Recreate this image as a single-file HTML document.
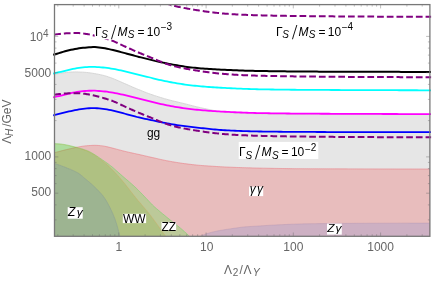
<!DOCTYPE html>
<html><head><meta charset="utf-8"><title>plot</title>
<style>html,body{margin:0;padding:0;background:#fff;overflow:hidden}</style></head>
<body><svg width="436" height="282" viewBox="0 0 436 282" style="display:block;will-change:transform;opacity:0.999" font-family='"Liberation Sans", sans-serif'>
<rect width="436" height="282" fill="#fff"/>
<defs><clipPath id="c"><rect x="54.5" y="4.6" width="375.4" height="231.70000000000002"/></clipPath>
<clipPath id="c2"><rect x="53.1" y="4.6" width="378.0" height="231.70000000000002"/></clipPath></defs>
<g clip-path="url(#c)">
<path d="M54.50,74.30 L56.50,73.91 L58.50,73.55 L60.50,73.22 L62.50,72.93 L64.50,72.66 L66.50,72.42 L68.50,72.23 L70.50,72.09 L72.50,71.97 L74.50,71.90 L76.50,71.92 L78.50,71.97 L80.50,72.06 L82.50,72.15 L84.50,72.28 L86.50,72.45 L88.50,72.65 L90.50,72.91 L92.50,73.22 L94.50,73.55 L96.50,73.90 L98.50,74.29 L100.50,74.71 L102.50,75.16 L104.50,75.66 L106.50,76.24 L108.50,76.90 L110.50,77.62 L112.50,78.36 L114.50,79.15 L116.50,79.99 L118.50,80.85 L120.50,81.72 L122.50,82.60 L124.50,83.49 L126.50,84.37 L128.50,85.26 L130.50,86.14 L132.50,87.00 L134.50,87.85 L136.50,88.69 L138.50,89.50 L140.50,90.32 L142.50,91.13 L144.50,91.93 L146.50,92.71 L148.50,93.46 L150.50,94.17 L152.50,94.86 L154.50,95.53 L156.50,96.18 L158.50,96.82 L160.50,97.44 L162.50,98.04 L164.50,98.63 L166.50,99.20 L168.50,99.75 L170.50,100.29 L172.50,100.79 L174.50,101.29 L176.50,101.76 L178.50,102.24 L180.50,102.71 L182.50,103.19 L184.50,103.68 L186.50,104.18 L188.50,104.70 L190.50,105.22 L192.50,105.74 L194.50,106.25 L196.50,106.74 L198.50,107.21 L200.50,107.66 L202.50,108.10 L204.50,108.53 L206.50,108.95 L208.50,109.36 L210.50,109.76 L212.50,110.18 L214.50,110.60 L216.50,111.02 L218.50,111.39 L220.50,111.71 L222.50,111.95 L224.50,112.15 L226.50,112.34 L228.50,112.51 L230.50,112.66 L232.50,112.80 L234.50,112.92 L236.50,113.03 L238.50,113.13 L240.50,113.22 L242.50,113.30 L244.50,113.38 L246.50,113.46 L248.50,113.53 L250.50,113.59 L252.50,113.65 L254.50,113.70 L256.50,113.74 L258.50,113.78 L260.50,113.81 L262.50,113.83 L264.50,113.85 L266.50,113.88 L268.50,113.90 L270.50,113.91 L272.50,113.93 L274.50,113.95 L276.50,113.97 L278.50,113.98 L280.50,113.99 L282.50,114.01 L284.50,114.02 L286.50,114.03 L288.50,114.04 L290.50,114.05 L292.50,114.06 L294.50,114.07 L296.50,114.08 L298.50,114.09 L300.50,114.10 L302.50,114.11 L304.50,114.12 L306.50,114.13 L308.50,114.14 L310.50,114.15 L312.50,114.16 L314.50,114.16 L316.50,114.17 L318.50,114.18 L320.50,114.19 L322.50,114.19 L324.50,114.20 L326.50,114.21 L328.50,114.22 L330.50,114.22 L332.50,114.23 L334.50,114.23 L336.50,114.24 L338.50,114.25 L340.50,114.25 L342.50,114.26 L344.50,114.26 L346.50,114.27 L348.50,114.27 L350.50,114.28 L352.50,114.28 L354.50,114.29 L356.50,114.29 L358.50,114.30 L360.50,114.30 L362.50,114.31 L364.50,114.31 L366.50,114.31 L368.50,114.32 L370.50,114.32 L372.50,114.32 L374.50,114.33 L376.50,114.33 L378.50,114.34 L380.50,114.34 L382.50,114.34 L384.50,114.35 L386.50,114.35 L388.50,114.35 L390.50,114.36 L392.50,114.36 L394.50,114.36 L396.50,114.37 L398.50,114.37 L400.50,114.37 L402.50,114.38 L404.50,114.38 L406.50,114.38 L408.50,114.38 L410.50,114.38 L412.50,114.39 L414.50,114.39 L416.50,114.39 L418.50,114.39 L420.50,114.39 L422.50,114.40 L424.50,114.40 L426.50,114.40 L428.50,114.40 L429.90,114.40 L429.9,239.3 L54.5,239.3 Z" fill="#e6e6e6" stroke="#cfcfcf" stroke-width="0.8"/>
<path d="M54.50,152.70 L56.50,152.15 L58.50,151.61 L60.50,151.09 L62.50,150.57 L64.50,150.07 L66.50,149.57 L68.50,149.09 L70.50,148.63 L72.50,148.17 L74.50,147.73 L76.50,147.31 L78.50,146.94 L80.50,146.57 L82.50,146.23 L84.50,145.96 L86.50,145.75 L88.50,145.59 L90.50,145.47 L92.50,145.37 L94.50,145.30 L96.50,145.34 L98.50,145.47 L100.50,145.65 L102.50,145.89 L104.50,146.21 L106.50,146.60 L108.50,147.08 L110.50,147.57 L112.50,148.08 L114.50,148.61 L116.50,149.13 L118.50,149.67 L120.50,150.20 L122.50,150.72 L124.50,151.22 L126.50,151.69 L128.50,152.16 L130.50,152.61 L132.50,153.06 L134.50,153.50 L136.50,153.93 L138.50,154.37 L140.50,154.81 L142.50,155.27 L144.50,155.73 L146.50,156.20 L148.50,156.66 L150.50,157.11 L152.50,157.55 L154.50,157.99 L156.50,158.46 L158.50,158.95 L160.50,159.41 L162.50,159.84 L164.50,160.26 L166.50,160.66 L168.50,161.04 L170.50,161.40 L172.50,161.75 L174.50,162.09 L176.50,162.41 L178.50,162.72 L180.50,163.03 L182.50,163.33 L184.50,163.61 L186.50,163.87 L188.50,164.12 L190.50,164.37 L192.50,164.60 L194.50,164.82 L196.50,165.03 L198.50,165.22 L200.50,165.40 L202.50,165.56 L204.50,165.71 L206.50,165.85 L208.50,165.98 L210.50,166.10 L212.50,166.23 L214.50,166.36 L216.50,166.49 L218.50,166.61 L220.50,166.73 L222.50,166.84 L224.50,166.95 L226.50,167.03 L228.50,167.12 L230.50,167.20 L232.50,167.28 L234.50,167.36 L236.50,167.43 L238.50,167.50 L240.50,167.57 L242.50,167.64 L244.50,167.70 L246.50,167.76 L248.50,167.82 L250.50,167.87 L252.50,167.93 L254.50,167.98 L256.50,168.02 L258.50,168.07 L260.50,168.11 L262.50,168.15 L264.50,168.19 L266.50,168.23 L268.50,168.27 L270.50,168.31 L272.50,168.35 L274.50,168.38 L276.50,168.42 L278.50,168.45 L280.50,168.48 L282.50,168.51 L284.50,168.54 L286.50,168.57 L288.50,168.60 L290.50,168.62 L292.50,168.64 L294.50,168.66 L296.50,168.68 L298.50,168.69 L300.50,168.70 L302.50,168.71 L304.50,168.72 L306.50,168.73 L308.50,168.74 L310.50,168.75 L312.50,168.76 L314.50,168.77 L316.50,168.78 L318.50,168.79 L320.50,168.80 L322.50,168.80 L324.50,168.81 L326.50,168.82 L328.50,168.82 L330.50,168.83 L332.50,168.84 L334.50,168.84 L336.50,168.85 L338.50,168.85 L340.50,168.86 L342.50,168.86 L344.50,168.87 L346.50,168.87 L348.50,168.88 L350.50,168.88 L352.50,168.88 L354.50,168.89 L356.50,168.89 L358.50,168.90 L360.50,168.90 L362.50,168.90 L364.50,168.91 L366.50,168.91 L368.50,168.92 L370.50,168.92 L372.50,168.92 L374.50,168.93 L376.50,168.93 L378.50,168.94 L380.50,168.94 L382.50,168.94 L384.50,168.95 L386.50,168.95 L388.50,168.95 L390.50,168.96 L392.50,168.96 L394.50,168.96 L396.50,168.97 L398.50,168.97 L400.50,168.97 L402.50,168.97 L404.50,168.98 L406.50,168.98 L408.50,168.98 L410.50,168.98 L412.50,168.99 L414.50,168.99 L416.50,168.99 L418.50,168.99 L420.50,168.99 L422.50,169.00 L424.50,169.00 L426.50,169.00 L428.50,169.00 L429.90,169.00 L429.9,239.3 L54.5,239.3 Z" fill="rgb(242,0,0)" fill-opacity="0.175" stroke="rgb(235,110,120)" stroke-opacity="0.55" stroke-width="0.9"/>
<path d="M54.50,143.60 L56.50,143.66 L58.50,143.79 L60.50,143.94 L62.50,144.19 L64.50,144.51 L66.50,144.89 L68.50,145.34 L70.50,145.82 L72.50,146.31 L74.50,146.82 L76.50,147.34 L78.50,147.88 L80.50,148.45 L82.50,149.05 L84.50,149.69 L86.50,150.39 L88.50,151.21 L90.50,152.20 L92.50,153.32 L94.50,154.50 L96.50,155.80 L98.50,157.17 L100.50,158.54 L102.50,159.88 L104.50,161.25 L106.50,162.67 L108.50,164.13 L110.50,165.63 L112.50,167.22 L114.50,168.93 L116.50,170.75 L118.50,172.58 L120.50,174.34 L122.50,176.07 L124.50,177.79 L126.50,179.52 L128.50,181.21 L130.50,182.92 L132.50,184.68 L134.50,186.53 L136.50,188.45 L138.50,190.43 L140.50,192.45 L142.50,194.50 L144.50,196.58 L146.50,198.66 L148.50,200.75 L150.50,202.93 L152.50,205.00 L154.50,206.87 L156.50,208.63 L158.50,210.33 L160.50,212.02 L162.50,213.69 L164.50,215.33 L166.50,216.96 L168.50,218.58 L170.50,220.19 L172.50,221.80 L174.50,223.40 L176.50,224.99 L178.50,226.56 L180.50,228.17 L182.50,229.86 L184.50,231.63 L186.50,233.46 L188.50,235.38 L190.50,237.54 L191.40,238.60 L191.4,239.3 L54.5,239.3 Z" fill="rgb(0,255,0)" fill-opacity="0.19" stroke="rgb(80,220,80)" stroke-opacity="0.5" stroke-width="0.8"/>
<path d="M54.50,143.90 L56.50,143.96 L58.50,144.09 L60.50,144.24 L62.50,144.49 L64.50,144.81 L66.50,145.19 L68.50,145.64 L70.50,146.12 L72.50,146.61 L74.50,147.12 L76.50,147.64 L78.50,148.18 L80.50,148.74 L82.50,149.36 L84.50,150.02 L86.50,150.76 L88.50,151.62 L90.50,152.68 L92.50,153.87 L94.50,155.12 L96.50,156.47 L98.50,157.90 L100.50,159.36 L102.50,160.84 L104.50,162.39 L106.50,164.07 L108.50,165.86 L110.50,167.74 L112.50,169.70 L114.50,171.77 L116.50,173.95 L118.50,176.20 L120.50,178.50 L122.50,180.86 L124.50,183.28 L126.50,185.75 L128.50,188.30 L130.50,190.93 L132.50,193.56 L134.50,196.12 L136.50,198.59 L138.50,200.98 L140.50,203.33 L142.50,205.66 L144.50,208.00 L146.50,210.38 L148.50,212.81 L150.50,215.34 L152.50,217.96 L154.50,220.66 L156.50,223.41 L158.50,226.20 L160.50,229.11 L162.50,231.96 L164.50,234.60 L166.50,237.24 L167.50,238.60 L167.5,239.3 L54.5,239.3 Z" fill="rgb(100,145,0)" fill-opacity="0.15" stroke="rgb(255,140,40)" stroke-opacity="0.25" stroke-width="0.7"/>
<path d="M54.50,163.40 L56.50,164.07 L58.50,164.76 L60.50,165.48 L62.50,166.22 L64.50,166.99 L66.50,167.79 L68.50,168.61 L70.50,169.42 L72.50,170.25 L74.50,171.14 L76.50,172.13 L78.50,173.26 L80.50,174.70 L82.50,176.42 L84.50,178.18 L86.50,179.84 L88.50,181.49 L90.50,183.18 L92.50,184.95 L94.50,186.81 L96.50,188.77 L98.50,190.84 L100.50,192.96 L102.50,195.28 L104.50,197.95 L106.50,201.11 L108.50,204.70 L110.50,208.60 L112.50,212.88 L114.50,217.75 L116.50,223.55 L118.50,230.66 L120.30,238.60 L120.3,239.3 L54.5,239.3 Z" fill="rgb(52,108,235)" fill-opacity="0.15" stroke="rgb(120,140,160)" stroke-opacity="0.35" stroke-width="0.8"/>
<path d="M198.00,238.30 L200.00,236.49 L202.00,235.43 L204.00,234.65 L206.00,233.95 L208.00,233.31 L210.00,232.73 L212.00,232.20 L214.00,231.72 L216.00,231.28 L218.00,230.87 L220.00,230.49 L222.00,230.13 L224.00,229.80 L226.00,229.48 L228.00,229.18 L230.00,228.89 L232.00,228.60 L234.00,228.31 L236.00,228.01 L238.00,227.72 L240.00,227.44 L242.00,227.18 L244.00,226.96 L246.00,226.78 L248.00,226.63 L250.00,226.50 L252.00,226.39 L254.00,226.27 L256.00,226.15 L258.00,226.03 L260.00,225.90 L262.00,225.77 L264.00,225.64 L266.00,225.51 L268.00,225.39 L270.00,225.26 L272.00,225.14 L274.00,225.03 L276.00,224.92 L278.00,224.82 L280.00,224.72 L282.00,224.63 L284.00,224.54 L286.00,224.46 L288.00,224.37 L290.00,224.29 L292.00,224.21 L294.00,224.13 L296.00,224.06 L298.00,223.99 L300.00,223.93 L302.00,223.88 L304.00,223.83 L306.00,223.79 L308.00,223.76 L310.00,223.73 L312.00,223.70 L314.00,223.67 L316.00,223.64 L318.00,223.61 L320.00,223.59 L322.00,223.56 L324.00,223.54 L326.00,223.52 L328.00,223.50 L330.00,223.48 L332.00,223.46 L334.00,223.45 L336.00,223.43 L338.00,223.41 L340.00,223.40 L342.00,223.39 L344.00,223.37 L346.00,223.36 L348.00,223.35 L350.00,223.33 L352.00,223.32 L354.00,223.31 L356.00,223.30 L358.00,223.29 L360.00,223.28 L362.00,223.27 L364.00,223.26 L366.00,223.25 L368.00,223.24 L370.00,223.23 L372.00,223.23 L374.00,223.22 L376.00,223.21 L378.00,223.21 L380.00,223.20 L382.00,223.19 L384.00,223.19 L386.00,223.18 L388.00,223.18 L390.00,223.17 L392.00,223.17 L394.00,223.16 L396.00,223.16 L398.00,223.15 L400.00,223.15 L402.00,223.14 L404.00,223.14 L406.00,223.13 L408.00,223.13 L410.00,223.12 L412.00,223.12 L414.00,223.12 L416.00,223.11 L418.00,223.11 L420.00,223.11 L422.00,223.11 L424.00,223.10 L426.00,223.10 L428.00,223.10 L429.90,223.10 L429.9,239.3 L198.0,239.3 Z" fill="rgb(52,108,235)" fill-opacity="0.15" stroke="rgb(160,130,170)" stroke-opacity="0.35" stroke-width="0.8"/>
</g>
<g clip-path="url(#c2)" fill="none" stroke-width="2">
<path d="M53.00,54.86 L55.00,54.33 L57.00,53.74 L59.00,53.12 L61.00,52.50 L63.00,51.91 L65.00,51.32 L67.00,50.77 L69.00,50.28 L71.00,49.84 L73.00,49.42 L75.00,49.02 L77.00,48.66 L79.00,48.34 L81.00,48.06 L83.00,47.83 L85.00,47.63 L87.00,47.47 L89.00,47.33 L91.00,47.21 L93.00,47.12 L95.00,47.12 L97.00,47.26 L99.00,47.49 L101.00,47.71 L103.00,47.98 L105.00,48.30 L107.00,48.68 L109.00,49.13 L111.00,49.61 L113.00,50.09 L115.00,50.58 L117.00,51.08 L119.00,51.59 L121.00,52.10 L123.00,52.62 L125.00,53.15 L127.00,53.68 L129.00,54.22 L131.00,54.77 L133.00,55.32 L135.00,55.86 L137.00,56.39 L139.00,56.91 L141.00,57.40 L143.00,57.89 L145.00,58.37 L147.00,58.86 L149.00,59.35 L151.00,59.86 L153.00,60.39 L155.00,60.90 L157.00,61.36 L159.00,61.79 L161.00,62.21 L163.00,62.63 L165.00,63.05 L167.00,63.46 L169.00,63.87 L171.00,64.26 L173.00,64.64 L175.00,65.00 L177.00,65.35 L179.00,65.69 L181.00,66.02 L183.00,66.34 L185.00,66.63 L187.00,66.90 L189.00,67.15 L191.00,67.39 L193.00,67.62 L195.00,67.84 L197.00,68.03 L199.00,68.22 L201.00,68.38 L203.00,68.54 L205.00,68.69 L207.00,68.83 L209.00,68.97 L211.00,69.11 L213.00,69.23 L215.00,69.35 L217.00,69.47 L219.00,69.58 L221.00,69.68 L223.00,69.78 L225.00,69.87 L227.00,69.96 L229.00,70.04 L231.00,70.12 L233.00,70.20 L235.00,70.28 L237.00,70.35 L239.00,70.42 L241.00,70.49 L243.00,70.56 L245.00,70.63 L247.00,70.69 L249.00,70.74 L251.00,70.80 L253.00,70.85 L255.00,70.90 L257.00,70.94 L259.00,70.98 L261.00,71.02 L263.00,71.05 L265.00,71.09 L267.00,71.12 L269.00,71.15 L271.00,71.18 L273.00,71.21 L275.00,71.24 L277.00,71.27 L279.00,71.29 L281.00,71.32 L283.00,71.34 L285.00,71.36 L287.00,71.38 L289.00,71.40 L291.00,71.42 L293.00,71.44 L295.00,71.46 L297.00,71.48 L299.00,71.49 L301.00,71.51 L303.00,71.52 L305.00,71.54 L307.00,71.55 L309.00,71.56 L311.00,71.58 L313.00,71.59 L315.00,71.60 L317.00,71.62 L319.00,71.63 L321.00,71.64 L323.00,71.65 L325.00,71.66 L327.00,71.67 L329.00,71.68 L331.00,71.69 L333.00,71.70 L335.00,71.71 L337.00,71.72 L339.00,71.73 L341.00,71.74 L343.00,71.75 L345.00,71.76 L347.00,71.76 L349.00,71.77 L351.00,71.78 L353.00,71.78 L355.00,71.79 L357.00,71.79 L359.00,71.80 L361.00,71.80 L363.00,71.81 L365.00,71.81 L367.00,71.82 L369.00,71.82 L371.00,71.82 L373.00,71.83 L375.00,71.83 L377.00,71.84 L379.00,71.84 L381.00,71.84 L383.00,71.85 L385.00,71.85 L387.00,71.85 L389.00,71.86 L391.00,71.86 L393.00,71.87 L395.00,71.87 L397.00,71.87 L399.00,71.87 L401.00,71.88 L403.00,71.88 L405.00,71.88 L407.00,71.88 L409.00,71.89 L411.00,71.89 L413.00,71.89 L415.00,71.89 L417.00,71.89 L419.00,71.90 L421.00,71.90 L423.00,71.90 L425.00,71.90 L427.00,71.90 L429.00,71.90 L431.00,71.90" stroke="#000"/>
<path d="M53.00,73.65 L55.00,73.16 L57.00,72.69 L59.00,72.23 L61.00,71.77 L63.00,71.31 L65.00,70.83 L67.00,70.35 L69.00,69.88 L71.00,69.40 L73.00,68.94 L75.00,68.54 L77.00,68.20 L79.00,67.91 L81.00,67.66 L83.00,67.42 L85.00,67.19 L87.00,67.03 L89.00,66.97 L91.00,66.93 L93.00,66.90 L95.00,66.91 L97.00,67.04 L99.00,67.22 L101.00,67.37 L103.00,67.52 L105.00,67.70 L107.00,67.93 L109.00,68.22 L111.00,68.53 L113.00,68.87 L115.00,69.23 L117.00,69.62 L119.00,70.03 L121.00,70.46 L123.00,70.91 L125.00,71.36 L127.00,71.81 L129.00,72.29 L131.00,72.79 L133.00,73.29 L135.00,73.80 L137.00,74.30 L139.00,74.79 L141.00,75.29 L143.00,75.78 L145.00,76.27 L147.00,76.76 L149.00,77.25 L151.00,77.75 L153.00,78.26 L155.00,78.78 L157.00,79.29 L159.00,79.77 L161.00,80.22 L163.00,80.65 L165.00,81.07 L167.00,81.48 L169.00,81.87 L171.00,82.25 L173.00,82.61 L175.00,82.97 L177.00,83.30 L179.00,83.63 L181.00,83.95 L183.00,84.25 L185.00,84.53 L187.00,84.80 L189.00,85.05 L191.00,85.30 L193.00,85.54 L195.00,85.76 L197.00,85.97 L199.00,86.17 L201.00,86.34 L203.00,86.51 L205.00,86.67 L207.00,86.83 L209.00,86.98 L211.00,87.12 L213.00,87.26 L215.00,87.39 L217.00,87.52 L219.00,87.64 L221.00,87.75 L223.00,87.86 L225.00,87.97 L227.00,88.06 L229.00,88.16 L231.00,88.26 L233.00,88.35 L235.00,88.44 L237.00,88.53 L239.00,88.62 L241.00,88.70 L243.00,88.79 L245.00,88.86 L247.00,88.94 L249.00,89.01 L251.00,89.07 L253.00,89.13 L255.00,89.19 L257.00,89.24 L259.00,89.28 L261.00,89.32 L263.00,89.36 L265.00,89.39 L267.00,89.42 L269.00,89.46 L271.00,89.49 L273.00,89.52 L275.00,89.54 L277.00,89.57 L279.00,89.60 L281.00,89.62 L283.00,89.64 L285.00,89.67 L287.00,89.69 L289.00,89.71 L291.00,89.73 L293.00,89.74 L295.00,89.76 L297.00,89.78 L299.00,89.79 L301.00,89.81 L303.00,89.82 L305.00,89.84 L307.00,89.85 L309.00,89.86 L311.00,89.87 L313.00,89.89 L315.00,89.90 L317.00,89.91 L319.00,89.92 L321.00,89.93 L323.00,89.94 L325.00,89.95 L327.00,89.96 L329.00,89.97 L331.00,89.98 L333.00,89.99 L335.00,90.00 L337.00,90.01 L339.00,90.02 L341.00,90.03 L343.00,90.04 L345.00,90.04 L347.00,90.05 L349.00,90.06 L351.00,90.07 L353.00,90.07 L355.00,90.08 L357.00,90.09 L359.00,90.10 L361.00,90.10 L363.00,90.11 L365.00,90.12 L367.00,90.12 L369.00,90.13 L371.00,90.14 L373.00,90.15 L375.00,90.15 L377.00,90.16 L379.00,90.17 L381.00,90.17 L383.00,90.18 L385.00,90.19 L387.00,90.19 L389.00,90.20 L391.00,90.20 L393.00,90.21 L395.00,90.22 L397.00,90.22 L399.00,90.23 L401.00,90.23 L403.00,90.24 L405.00,90.24 L407.00,90.25 L409.00,90.25 L411.00,90.26 L413.00,90.26 L415.00,90.27 L417.00,90.27 L419.00,90.28 L421.00,90.28 L423.00,90.28 L425.00,90.29 L427.00,90.29 L429.00,90.30 L431.00,90.30" stroke="#00ffff" stroke-width="1.8"/>
<path d="M53.00,97.45 L55.00,96.96 L57.00,96.49 L59.00,96.03 L61.00,95.57 L63.00,95.11 L65.00,94.63 L67.00,94.15 L69.00,93.68 L71.00,93.20 L73.00,92.74 L75.00,92.34 L77.00,92.00 L79.00,91.71 L81.00,91.46 L83.00,91.22 L85.00,90.99 L87.00,90.83 L89.00,90.77 L91.00,90.73 L93.00,90.70 L95.00,90.71 L97.00,90.84 L99.00,91.02 L101.00,91.17 L103.00,91.32 L105.00,91.50 L107.00,91.73 L109.00,92.02 L111.00,92.33 L113.00,92.67 L115.00,93.03 L117.00,93.42 L119.00,93.83 L121.00,94.26 L123.00,94.71 L125.00,95.16 L127.00,95.61 L129.00,96.09 L131.00,96.59 L133.00,97.09 L135.00,97.60 L137.00,98.10 L139.00,98.59 L141.00,99.09 L143.00,99.58 L145.00,100.07 L147.00,100.56 L149.00,101.05 L151.00,101.55 L153.00,102.06 L155.00,102.58 L157.00,103.09 L159.00,103.57 L161.00,104.02 L163.00,104.45 L165.00,104.87 L167.00,105.28 L169.00,105.67 L171.00,106.05 L173.00,106.41 L175.00,106.77 L177.00,107.10 L179.00,107.43 L181.00,107.75 L183.00,108.05 L185.00,108.33 L187.00,108.60 L189.00,108.85 L191.00,109.10 L193.00,109.34 L195.00,109.56 L197.00,109.77 L199.00,109.97 L201.00,110.14 L203.00,110.31 L205.00,110.47 L207.00,110.63 L209.00,110.78 L211.00,110.92 L213.00,111.06 L215.00,111.19 L217.00,111.32 L219.00,111.44 L221.00,111.55 L223.00,111.66 L225.00,111.77 L227.00,111.86 L229.00,111.96 L231.00,112.06 L233.00,112.15 L235.00,112.24 L237.00,112.33 L239.00,112.42 L241.00,112.50 L243.00,112.59 L245.00,112.66 L247.00,112.74 L249.00,112.81 L251.00,112.87 L253.00,112.93 L255.00,112.99 L257.00,113.04 L259.00,113.08 L261.00,113.12 L263.00,113.16 L265.00,113.19 L267.00,113.22 L269.00,113.26 L271.00,113.29 L273.00,113.32 L275.00,113.34 L277.00,113.37 L279.00,113.40 L281.00,113.42 L283.00,113.44 L285.00,113.47 L287.00,113.49 L289.00,113.51 L291.00,113.53 L293.00,113.54 L295.00,113.56 L297.00,113.58 L299.00,113.59 L301.00,113.61 L303.00,113.62 L305.00,113.64 L307.00,113.65 L309.00,113.66 L311.00,113.67 L313.00,113.69 L315.00,113.70 L317.00,113.71 L319.00,113.72 L321.00,113.73 L323.00,113.74 L325.00,113.75 L327.00,113.76 L329.00,113.77 L331.00,113.78 L333.00,113.79 L335.00,113.80 L337.00,113.81 L339.00,113.82 L341.00,113.83 L343.00,113.84 L345.00,113.84 L347.00,113.85 L349.00,113.86 L351.00,113.87 L353.00,113.87 L355.00,113.88 L357.00,113.89 L359.00,113.90 L361.00,113.90 L363.00,113.91 L365.00,113.92 L367.00,113.92 L369.00,113.93 L371.00,113.94 L373.00,113.95 L375.00,113.95 L377.00,113.96 L379.00,113.97 L381.00,113.97 L383.00,113.98 L385.00,113.99 L387.00,113.99 L389.00,114.00 L391.00,114.00 L393.00,114.01 L395.00,114.02 L397.00,114.02 L399.00,114.03 L401.00,114.03 L403.00,114.04 L405.00,114.04 L407.00,114.05 L409.00,114.05 L411.00,114.06 L413.00,114.06 L415.00,114.07 L417.00,114.07 L419.00,114.08 L421.00,114.08 L423.00,114.08 L425.00,114.09 L427.00,114.09 L429.00,114.10 L431.00,114.10" stroke="#ff00ff" stroke-width="1.8"/>
<path d="M53.00,115.35 L55.00,114.85 L57.00,114.34 L59.00,113.84 L61.00,113.34 L63.00,112.86 L65.00,112.38 L67.00,111.92 L69.00,111.48 L71.00,111.04 L73.00,110.60 L75.00,110.17 L77.00,109.76 L79.00,109.39 L81.00,109.07 L83.00,108.80 L85.00,108.55 L87.00,108.36 L89.00,108.25 L91.00,108.17 L93.00,108.11 L95.00,108.11 L97.00,108.23 L99.00,108.41 L101.00,108.60 L103.00,108.83 L105.00,109.10 L107.00,109.41 L109.00,109.77 L111.00,110.17 L113.00,110.59 L115.00,111.05 L117.00,111.56 L119.00,112.09 L121.00,112.65 L123.00,113.20 L125.00,113.75 L127.00,114.29 L129.00,114.84 L131.00,115.40 L133.00,115.95 L135.00,116.49 L137.00,117.00 L139.00,117.48 L141.00,117.94 L143.00,118.38 L145.00,118.81 L147.00,119.23 L149.00,119.65 L151.00,120.06 L153.00,120.48 L155.00,120.91 L157.00,121.33 L159.00,121.76 L161.00,122.17 L163.00,122.57 L165.00,122.96 L167.00,123.34 L169.00,123.71 L171.00,124.07 L173.00,124.43 L175.00,124.76 L177.00,125.08 L179.00,125.38 L181.00,125.66 L183.00,125.93 L185.00,126.19 L187.00,126.45 L189.00,126.69 L191.00,126.93 L193.00,127.17 L195.00,127.40 L197.00,127.63 L199.00,127.84 L201.00,128.05 L203.00,128.26 L205.00,128.47 L207.00,128.68 L209.00,128.89 L211.00,129.10 L213.00,129.30 L215.00,129.49 L217.00,129.67 L219.00,129.84 L221.00,130.00 L223.00,130.14 L225.00,130.26 L227.00,130.37 L229.00,130.47 L231.00,130.56 L233.00,130.65 L235.00,130.74 L237.00,130.83 L239.00,130.91 L241.00,130.99 L243.00,131.06 L245.00,131.13 L247.00,131.19 L249.00,131.25 L251.00,131.31 L253.00,131.36 L255.00,131.41 L257.00,131.45 L259.00,131.48 L261.00,131.52 L263.00,131.55 L265.00,131.57 L267.00,131.60 L269.00,131.63 L271.00,131.65 L273.00,131.68 L275.00,131.70 L277.00,131.72 L279.00,131.74 L281.00,131.76 L283.00,131.78 L285.00,131.80 L287.00,131.82 L289.00,131.83 L291.00,131.85 L293.00,131.86 L295.00,131.87 L297.00,131.88 L299.00,131.89 L301.00,131.91 L303.00,131.92 L305.00,131.93 L307.00,131.94 L309.00,131.95 L311.00,131.96 L313.00,131.97 L315.00,131.97 L317.00,131.98 L319.00,131.99 L321.00,132.00 L323.00,132.01 L325.00,132.02 L327.00,132.03 L329.00,132.04 L331.00,132.04 L333.00,132.05 L335.00,132.06 L337.00,132.06 L339.00,132.07 L341.00,132.07 L343.00,132.08 L345.00,132.08 L347.00,132.09 L349.00,132.09 L351.00,132.09 L353.00,132.10 L355.00,132.10 L357.00,132.10 L359.00,132.10 L361.00,132.10 L363.00,132.10 L365.00,132.10 L367.00,132.10 L369.00,132.10 L371.00,132.10 L373.00,132.10 L375.00,132.10 L377.00,132.10 L379.00,132.10 L381.00,132.10 L383.00,132.10 L385.00,132.10 L387.00,132.10 L389.00,132.10 L391.00,132.10 L393.00,132.10 L395.00,132.10 L397.00,132.10 L399.00,132.10 L401.00,132.10 L403.00,132.10 L405.00,132.10 L407.00,132.10 L409.00,132.10 L411.00,132.10 L413.00,132.10 L415.00,132.10 L417.00,132.10 L419.00,132.10 L421.00,132.10 L423.00,132.10 L425.00,132.10 L427.00,132.10 L429.00,132.10 L431.00,132.10" stroke="#0000ff" stroke-width="1.8"/>
<path d="M432.30,16.80 L432.00,16.80 L431.00,16.80 L430.00,16.80 L429.00,16.80 L428.00,16.80 L427.00,16.79 L426.00,16.79 L425.00,16.79 L424.00,16.79 L423.00,16.79 L422.00,16.79 L421.00,16.78 L420.00,16.78 L419.00,16.78 L418.00,16.78 L417.00,16.78 L416.00,16.77 L415.00,16.77 L414.00,16.77 L413.00,16.77 L412.00,16.76 L411.00,16.76 L410.00,16.76 L409.00,16.75 L408.00,16.75 L407.00,16.75 L406.00,16.75 L405.00,16.74 L404.00,16.74 L403.00,16.74 L402.00,16.73 L401.00,16.73 L400.00,16.73 L399.00,16.72 L398.00,16.72 L397.00,16.72 L396.00,16.71 L395.00,16.71 L394.00,16.70 L393.00,16.70 L392.00,16.70 L391.00,16.69 L390.00,16.69 L389.00,16.68 L388.00,16.68 L387.00,16.68 L386.00,16.67 L385.00,16.67 L384.00,16.66 L383.00,16.66 L382.00,16.65 L381.00,16.65 L380.00,16.64 L379.00,16.64 L378.00,16.64 L377.00,16.63 L376.00,16.63 L375.00,16.62 L374.00,16.62 L373.00,16.61 L372.00,16.61 L371.00,16.60 L370.00,16.60 L369.00,16.59 L368.00,16.59 L367.00,16.58 L366.00,16.58 L365.00,16.57 L364.00,16.57 L363.00,16.56 L362.00,16.56 L361.00,16.55 L360.00,16.55 L359.00,16.55 L358.00,16.54 L357.00,16.53 L356.00,16.53 L355.00,16.52 L354.00,16.52 L353.00,16.51 L352.00,16.51 L351.00,16.50 L350.00,16.49 L349.00,16.49 L348.00,16.48 L347.00,16.48 L346.00,16.47 L345.00,16.46 L344.00,16.46 L343.00,16.45 L342.00,16.44 L341.00,16.44 L340.00,16.43 L339.00,16.42 L338.00,16.41 L337.00,16.41 L336.00,16.40 L335.00,16.39 L334.00,16.38 L333.00,16.37 L332.00,16.37 L331.00,16.36 L330.00,16.35 L329.00,16.34 L328.00,16.33 L327.00,16.32 L326.00,16.32 L325.00,16.31 L324.00,16.30 L323.00,16.29 L322.00,16.28 L321.00,16.27 L320.00,16.26 L319.00,16.25 L318.00,16.24 L317.00,16.23 L316.00,16.22 L315.00,16.21 L314.00,16.20 L313.00,16.19 L312.00,16.18 L311.00,16.17 L310.00,16.16 L309.00,16.15 L308.00,16.14 L307.00,16.13 L306.00,16.12 L305.00,16.11 L304.00,16.10 L303.00,16.08 L302.00,16.07 L301.00,16.06 L300.00,16.05 L299.00,16.04 L298.00,16.03 L297.00,16.01 L296.00,16.00 L295.00,15.99 L294.00,15.98 L293.00,15.96 L292.00,15.95 L291.00,15.94 L290.00,15.92 L289.00,15.91 L288.00,15.89 L287.00,15.88 L286.00,15.86 L285.00,15.85 L284.00,15.83 L283.00,15.82 L282.00,15.80 L281.00,15.78 L280.00,15.77 L279.00,15.75 L278.00,15.73 L277.00,15.71 L276.00,15.70 L275.00,15.68 L274.00,15.66 L273.00,15.64 L272.00,15.62 L271.00,15.60 L270.00,15.58 L269.00,15.56 L268.00,15.54 L267.00,15.51 L266.00,15.49 L265.00,15.47 L264.00,15.45 L263.00,15.42 L262.00,15.40 L261.00,15.37 L260.00,15.35 L259.00,15.32 L258.00,15.30 L257.00,15.27 L256.00,15.24 L255.00,15.21 L254.00,15.17 L253.00,15.14 L252.00,15.11 L251.00,15.07 L250.00,15.03 L249.00,14.99 L248.00,14.95 L247.00,14.91 L246.00,14.87 L245.00,14.83 L244.00,14.78 L243.00,14.74 L242.00,14.69 L241.00,14.65 L240.00,14.60 L239.00,14.55 L238.00,14.50 L237.00,14.45 L236.00,14.39 L235.00,14.33 L234.00,14.28 L233.00,14.21 L232.00,14.15 L231.00,14.08 L230.00,14.02 L229.00,13.95 L228.00,13.87 L227.00,13.80 L226.00,13.72 L225.00,13.64 L224.00,13.56 L223.00,13.47 L222.00,13.38 L221.00,13.28 L220.00,13.19 L219.00,13.08 L218.00,12.98 L217.00,12.87 L216.00,12.76 L215.00,12.65 L214.00,12.53 L213.00,12.42 L212.00,12.30 L211.00,12.18 L210.00,12.06 L209.00,11.93 L208.00,11.80 L207.00,11.66 L206.00,11.53 L205.00,11.39 L204.00,11.24 L203.00,11.10 L202.00,10.95 L201.00,10.80 L200.00,10.66 L199.00,10.50 L198.00,10.35 L197.00,10.20 L196.00,10.04 L195.00,9.88 L194.00,9.72 L193.00,9.55 L192.00,9.38 L191.00,9.21 L190.00,9.04 L189.00,8.86 L188.00,8.68 L187.00,8.50 L186.00,8.31 L185.00,8.13 L184.00,7.94 L183.00,7.74 L182.00,7.55 L181.00,7.34 L180.00,7.14 L179.00,6.92 L178.00,6.71 L177.00,6.48 L176.00,6.24 L175.00,6.00 L174.00,5.74 L173.00,5.48 L172.00,5.20 L171.00,4.90 L170.00,4.60 L169.00,4.29 L168.00,3.97 L167.00,3.64 L166.00,3.30 L165.00,2.95 L164.00,2.58 L163.00,2.20 L162.00,1.80 L161.00,1.40 L160.00,1.00 L159.00,0.59 L158.00,0.18 L157.00,-0.25 L156.00,-0.68 L155.00,-1.11 L154.00,-1.54 L153.00,-1.97 L152.00,-2.39 L151.00,-2.81 L150.00,-3.22 L149.00,-3.63 L148.00,-4.03 L147.00,-4.43 L146.00,-4.84 L145.00,-5.24 L144.00,-5.64 L143.00,-6.04 L142.00,-6.45 L141.00,-6.86 L140.00,-7.27 L139.00,-7.69 L138.00,-8.11 L137.00,-8.54 L136.00,-8.97 L135.00,-9.41 L134.00,-9.85 L133.00,-10.29 L132.00,-10.74 L131.00,-11.19 L130.00,-11.63 L129.00,-12.08 L128.00,-12.53 L127.00,-12.98 L126.00,-13.43 L125.00,-13.88 L124.00,-14.34 L123.00,-14.81 L122.00,-15.28 L121.00,-15.76 L120.00,-16.24 L119.00,-16.71 L118.00,-17.18 L117.00,-17.64 L116.00,-18.09 L115.00,-18.53 L114.00,-18.95 L113.00,-19.35 L112.00,-19.72 L111.00,-20.08 L110.00,-20.42 L109.00,-20.75 L108.00,-21.07 L107.00,-21.39 L106.00,-21.70 L105.00,-22.01 L104.00,-22.32 L103.00,-22.63 L102.00,-22.92 L101.00,-23.20 L100.00,-23.47 L99.00,-23.74 L98.00,-23.99 L97.00,-24.25 L96.00,-24.49 L95.00,-24.72 L94.00,-24.94 L93.00,-25.17 L92.00,-25.39 L91.00,-25.60 L90.00,-25.81 L89.00,-26.01 L88.00,-26.19 L87.00,-26.36 L86.00,-26.50 L85.00,-26.64 L84.00,-26.77 L83.00,-26.91 L82.00,-27.03 L81.00,-27.14 L80.00,-27.22 L79.00,-27.28 L78.00,-27.30 L77.00,-27.30 L76.00,-27.29 L75.00,-27.29 L74.00,-27.28 L73.00,-27.27 L72.00,-27.25 L71.00,-27.24 L70.00,-27.22 L69.00,-27.20 L68.00,-27.17 L67.00,-27.12 L66.00,-27.05 L65.00,-26.97 L64.00,-26.88 L63.00,-26.79 L62.00,-26.70 L61.00,-26.61 L60.00,-26.50 L59.00,-26.39 L58.00,-26.28 L57.00,-26.15 L56.00,-26.02 L55.00,-25.88 L54.00,-25.74 L53.00,-25.57" stroke="#800080" pathLength="390.24" stroke-dasharray="6.8 3"/>
<path d="M432.30,77.20 L432.00,77.20 L431.00,77.20 L430.00,77.20 L429.00,77.20 L428.00,77.20 L427.00,77.19 L426.00,77.19 L425.00,77.19 L424.00,77.19 L423.00,77.19 L422.00,77.19 L421.00,77.18 L420.00,77.18 L419.00,77.18 L418.00,77.18 L417.00,77.18 L416.00,77.17 L415.00,77.17 L414.00,77.17 L413.00,77.17 L412.00,77.16 L411.00,77.16 L410.00,77.16 L409.00,77.15 L408.00,77.15 L407.00,77.15 L406.00,77.15 L405.00,77.14 L404.00,77.14 L403.00,77.14 L402.00,77.13 L401.00,77.13 L400.00,77.13 L399.00,77.12 L398.00,77.12 L397.00,77.12 L396.00,77.11 L395.00,77.11 L394.00,77.10 L393.00,77.10 L392.00,77.10 L391.00,77.09 L390.00,77.09 L389.00,77.08 L388.00,77.08 L387.00,77.08 L386.00,77.07 L385.00,77.07 L384.00,77.06 L383.00,77.06 L382.00,77.05 L381.00,77.05 L380.00,77.04 L379.00,77.04 L378.00,77.04 L377.00,77.03 L376.00,77.03 L375.00,77.02 L374.00,77.02 L373.00,77.01 L372.00,77.01 L371.00,77.00 L370.00,77.00 L369.00,76.99 L368.00,76.99 L367.00,76.98 L366.00,76.98 L365.00,76.97 L364.00,76.97 L363.00,76.96 L362.00,76.96 L361.00,76.95 L360.00,76.95 L359.00,76.95 L358.00,76.94 L357.00,76.93 L356.00,76.93 L355.00,76.92 L354.00,76.92 L353.00,76.91 L352.00,76.91 L351.00,76.90 L350.00,76.89 L349.00,76.89 L348.00,76.88 L347.00,76.88 L346.00,76.87 L345.00,76.86 L344.00,76.86 L343.00,76.85 L342.00,76.84 L341.00,76.84 L340.00,76.83 L339.00,76.82 L338.00,76.81 L337.00,76.81 L336.00,76.80 L335.00,76.79 L334.00,76.78 L333.00,76.77 L332.00,76.77 L331.00,76.76 L330.00,76.75 L329.00,76.74 L328.00,76.73 L327.00,76.72 L326.00,76.72 L325.00,76.71 L324.00,76.70 L323.00,76.69 L322.00,76.68 L321.00,76.67 L320.00,76.66 L319.00,76.65 L318.00,76.64 L317.00,76.63 L316.00,76.62 L315.00,76.61 L314.00,76.60 L313.00,76.59 L312.00,76.58 L311.00,76.57 L310.00,76.56 L309.00,76.55 L308.00,76.54 L307.00,76.53 L306.00,76.52 L305.00,76.51 L304.00,76.50 L303.00,76.48 L302.00,76.47 L301.00,76.46 L300.00,76.45 L299.00,76.44 L298.00,76.43 L297.00,76.41 L296.00,76.40 L295.00,76.39 L294.00,76.38 L293.00,76.36 L292.00,76.35 L291.00,76.34 L290.00,76.32 L289.00,76.31 L288.00,76.29 L287.00,76.28 L286.00,76.26 L285.00,76.25 L284.00,76.23 L283.00,76.22 L282.00,76.20 L281.00,76.18 L280.00,76.17 L279.00,76.15 L278.00,76.13 L277.00,76.11 L276.00,76.10 L275.00,76.08 L274.00,76.06 L273.00,76.04 L272.00,76.02 L271.00,76.00 L270.00,75.98 L269.00,75.96 L268.00,75.94 L267.00,75.91 L266.00,75.89 L265.00,75.87 L264.00,75.85 L263.00,75.82 L262.00,75.80 L261.00,75.77 L260.00,75.75 L259.00,75.72 L258.00,75.70 L257.00,75.67 L256.00,75.64 L255.00,75.61 L254.00,75.57 L253.00,75.54 L252.00,75.51 L251.00,75.47 L250.00,75.43 L249.00,75.39 L248.00,75.35 L247.00,75.31 L246.00,75.27 L245.00,75.23 L244.00,75.18 L243.00,75.14 L242.00,75.09 L241.00,75.05 L240.00,75.00 L239.00,74.95 L238.00,74.90 L237.00,74.85 L236.00,74.79 L235.00,74.73 L234.00,74.68 L233.00,74.61 L232.00,74.55 L231.00,74.48 L230.00,74.42 L229.00,74.35 L228.00,74.27 L227.00,74.20 L226.00,74.12 L225.00,74.04 L224.00,73.96 L223.00,73.87 L222.00,73.78 L221.00,73.68 L220.00,73.59 L219.00,73.48 L218.00,73.38 L217.00,73.27 L216.00,73.16 L215.00,73.05 L214.00,72.93 L213.00,72.82 L212.00,72.70 L211.00,72.58 L210.00,72.46 L209.00,72.33 L208.00,72.20 L207.00,72.06 L206.00,71.93 L205.00,71.79 L204.00,71.64 L203.00,71.50 L202.00,71.35 L201.00,71.20 L200.00,71.06 L199.00,70.90 L198.00,70.75 L197.00,70.60 L196.00,70.44 L195.00,70.28 L194.00,70.12 L193.00,69.95 L192.00,69.78 L191.00,69.61 L190.00,69.44 L189.00,69.26 L188.00,69.08 L187.00,68.90 L186.00,68.71 L185.00,68.53 L184.00,68.34 L183.00,68.14 L182.00,67.95 L181.00,67.74 L180.00,67.54 L179.00,67.32 L178.00,67.11 L177.00,66.88 L176.00,66.64 L175.00,66.40 L174.00,66.14 L173.00,65.88 L172.00,65.60 L171.00,65.30 L170.00,65.00 L169.00,64.69 L168.00,64.37 L167.00,64.04 L166.00,63.70 L165.00,63.35 L164.00,62.98 L163.00,62.60 L162.00,62.20 L161.00,61.80 L160.00,61.40 L159.00,60.99 L158.00,60.58 L157.00,60.15 L156.00,59.72 L155.00,59.29 L154.00,58.86 L153.00,58.43 L152.00,58.01 L151.00,57.59 L150.00,57.18 L149.00,56.77 L148.00,56.37 L147.00,55.97 L146.00,55.56 L145.00,55.16 L144.00,54.76 L143.00,54.36 L142.00,53.95 L141.00,53.54 L140.00,53.13 L139.00,52.71 L138.00,52.29 L137.00,51.86 L136.00,51.43 L135.00,50.99 L134.00,50.55 L133.00,50.11 L132.00,49.66 L131.00,49.21 L130.00,48.77 L129.00,48.32 L128.00,47.87 L127.00,47.42 L126.00,46.97 L125.00,46.52 L124.00,46.06 L123.00,45.59 L122.00,45.12 L121.00,44.64 L120.00,44.16 L119.00,43.69 L118.00,43.22 L117.00,42.76 L116.00,42.31 L115.00,41.87 L114.00,41.45 L113.00,41.05 L112.00,40.68 L111.00,40.32 L110.00,39.98 L109.00,39.65 L108.00,39.33 L107.00,39.01 L106.00,38.70 L105.00,38.39 L104.00,38.08 L103.00,37.77 L102.00,37.48 L101.00,37.20 L100.00,36.93 L99.00,36.66 L98.00,36.41 L97.00,36.15 L96.00,35.91 L95.00,35.68 L94.00,35.46 L93.00,35.23 L92.00,35.01 L91.00,34.80 L90.00,34.59 L89.00,34.39 L88.00,34.21 L87.00,34.04 L86.00,33.90 L85.00,33.76 L84.00,33.63 L83.00,33.49 L82.00,33.37 L81.00,33.26 L80.00,33.18 L79.00,33.12 L78.00,33.10 L77.00,33.10 L76.00,33.11 L75.00,33.11 L74.00,33.12 L73.00,33.13 L72.00,33.15 L71.00,33.16 L70.00,33.18 L69.00,33.20 L68.00,33.23 L67.00,33.28 L66.00,33.35 L65.00,33.43 L64.00,33.52 L63.00,33.61 L62.00,33.70 L61.00,33.79 L60.00,33.90 L59.00,34.01 L58.00,34.12 L57.00,34.25 L56.00,34.38 L55.00,34.52 L54.00,34.66 L53.00,34.83" stroke="#800080" pathLength="390.24" stroke-dasharray="6.8 3"/>
<path d="M432.30,137.30 L432.00,137.30 L431.00,137.30 L430.00,137.30 L429.00,137.30 L428.00,137.30 L427.00,137.29 L426.00,137.29 L425.00,137.29 L424.00,137.29 L423.00,137.29 L422.00,137.29 L421.00,137.28 L420.00,137.28 L419.00,137.28 L418.00,137.28 L417.00,137.28 L416.00,137.27 L415.00,137.27 L414.00,137.27 L413.00,137.27 L412.00,137.26 L411.00,137.26 L410.00,137.26 L409.00,137.25 L408.00,137.25 L407.00,137.25 L406.00,137.25 L405.00,137.24 L404.00,137.24 L403.00,137.24 L402.00,137.23 L401.00,137.23 L400.00,137.23 L399.00,137.22 L398.00,137.22 L397.00,137.22 L396.00,137.21 L395.00,137.21 L394.00,137.20 L393.00,137.20 L392.00,137.20 L391.00,137.19 L390.00,137.19 L389.00,137.18 L388.00,137.18 L387.00,137.18 L386.00,137.17 L385.00,137.17 L384.00,137.16 L383.00,137.16 L382.00,137.15 L381.00,137.15 L380.00,137.14 L379.00,137.14 L378.00,137.14 L377.00,137.13 L376.00,137.13 L375.00,137.12 L374.00,137.12 L373.00,137.11 L372.00,137.11 L371.00,137.10 L370.00,137.10 L369.00,137.09 L368.00,137.09 L367.00,137.08 L366.00,137.08 L365.00,137.07 L364.00,137.07 L363.00,137.06 L362.00,137.06 L361.00,137.05 L360.00,137.05 L359.00,137.05 L358.00,137.04 L357.00,137.03 L356.00,137.03 L355.00,137.02 L354.00,137.02 L353.00,137.01 L352.00,137.01 L351.00,137.00 L350.00,136.99 L349.00,136.99 L348.00,136.98 L347.00,136.98 L346.00,136.97 L345.00,136.96 L344.00,136.96 L343.00,136.95 L342.00,136.94 L341.00,136.94 L340.00,136.93 L339.00,136.92 L338.00,136.91 L337.00,136.91 L336.00,136.90 L335.00,136.89 L334.00,136.88 L333.00,136.87 L332.00,136.87 L331.00,136.86 L330.00,136.85 L329.00,136.84 L328.00,136.83 L327.00,136.82 L326.00,136.82 L325.00,136.81 L324.00,136.80 L323.00,136.79 L322.00,136.78 L321.00,136.77 L320.00,136.76 L319.00,136.75 L318.00,136.74 L317.00,136.73 L316.00,136.72 L315.00,136.71 L314.00,136.70 L313.00,136.69 L312.00,136.68 L311.00,136.67 L310.00,136.66 L309.00,136.65 L308.00,136.64 L307.00,136.63 L306.00,136.62 L305.00,136.61 L304.00,136.60 L303.00,136.58 L302.00,136.57 L301.00,136.56 L300.00,136.55 L299.00,136.54 L298.00,136.53 L297.00,136.51 L296.00,136.50 L295.00,136.49 L294.00,136.48 L293.00,136.46 L292.00,136.45 L291.00,136.44 L290.00,136.42 L289.00,136.41 L288.00,136.39 L287.00,136.38 L286.00,136.36 L285.00,136.35 L284.00,136.33 L283.00,136.32 L282.00,136.30 L281.00,136.28 L280.00,136.27 L279.00,136.25 L278.00,136.23 L277.00,136.21 L276.00,136.20 L275.00,136.18 L274.00,136.16 L273.00,136.14 L272.00,136.12 L271.00,136.10 L270.00,136.08 L269.00,136.06 L268.00,136.04 L267.00,136.01 L266.00,135.99 L265.00,135.97 L264.00,135.95 L263.00,135.92 L262.00,135.90 L261.00,135.87 L260.00,135.85 L259.00,135.82 L258.00,135.80 L257.00,135.77 L256.00,135.74 L255.00,135.71 L254.00,135.67 L253.00,135.64 L252.00,135.61 L251.00,135.57 L250.00,135.53 L249.00,135.49 L248.00,135.45 L247.00,135.41 L246.00,135.37 L245.00,135.33 L244.00,135.28 L243.00,135.24 L242.00,135.19 L241.00,135.15 L240.00,135.10 L239.00,135.05 L238.00,135.00 L237.00,134.95 L236.00,134.89 L235.00,134.83 L234.00,134.78 L233.00,134.71 L232.00,134.65 L231.00,134.58 L230.00,134.52 L229.00,134.45 L228.00,134.37 L227.00,134.30 L226.00,134.22 L225.00,134.14 L224.00,134.06 L223.00,133.97 L222.00,133.88 L221.00,133.78 L220.00,133.69 L219.00,133.58 L218.00,133.48 L217.00,133.37 L216.00,133.26 L215.00,133.15 L214.00,133.03 L213.00,132.92 L212.00,132.80 L211.00,132.68 L210.00,132.56 L209.00,132.43 L208.00,132.30 L207.00,132.16 L206.00,132.03 L205.00,131.89 L204.00,131.74 L203.00,131.60 L202.00,131.45 L201.00,131.30 L200.00,131.16 L199.00,131.00 L198.00,130.85 L197.00,130.70 L196.00,130.54 L195.00,130.38 L194.00,130.22 L193.00,130.05 L192.00,129.88 L191.00,129.71 L190.00,129.54 L189.00,129.36 L188.00,129.18 L187.00,129.00 L186.00,128.81 L185.00,128.63 L184.00,128.44 L183.00,128.24 L182.00,128.05 L181.00,127.84 L180.00,127.64 L179.00,127.42 L178.00,127.21 L177.00,126.98 L176.00,126.74 L175.00,126.50 L174.00,126.24 L173.00,125.98 L172.00,125.70 L171.00,125.40 L170.00,125.10 L169.00,124.79 L168.00,124.47 L167.00,124.14 L166.00,123.80 L165.00,123.45 L164.00,123.08 L163.00,122.70 L162.00,122.30 L161.00,121.90 L160.00,121.50 L159.00,121.09 L158.00,120.68 L157.00,120.25 L156.00,119.82 L155.00,119.39 L154.00,118.96 L153.00,118.53 L152.00,118.11 L151.00,117.69 L150.00,117.28 L149.00,116.87 L148.00,116.47 L147.00,116.07 L146.00,115.66 L145.00,115.26 L144.00,114.86 L143.00,114.46 L142.00,114.05 L141.00,113.64 L140.00,113.23 L139.00,112.81 L138.00,112.39 L137.00,111.96 L136.00,111.53 L135.00,111.09 L134.00,110.65 L133.00,110.21 L132.00,109.76 L131.00,109.31 L130.00,108.87 L129.00,108.42 L128.00,107.97 L127.00,107.52 L126.00,107.07 L125.00,106.62 L124.00,106.16 L123.00,105.69 L122.00,105.22 L121.00,104.74 L120.00,104.26 L119.00,103.79 L118.00,103.32 L117.00,102.86 L116.00,102.41 L115.00,101.97 L114.00,101.55 L113.00,101.15 L112.00,100.78 L111.00,100.42 L110.00,100.08 L109.00,99.75 L108.00,99.43 L107.00,99.11 L106.00,98.80 L105.00,98.49 L104.00,98.18 L103.00,97.87 L102.00,97.58 L101.00,97.30 L100.00,97.03 L99.00,96.76 L98.00,96.51 L97.00,96.25 L96.00,96.01 L95.00,95.78 L94.00,95.56 L93.00,95.33 L92.00,95.11 L91.00,94.90 L90.00,94.69 L89.00,94.49 L88.00,94.31 L87.00,94.14 L86.00,94.00 L85.00,93.86 L84.00,93.73 L83.00,93.59 L82.00,93.47 L81.00,93.36 L80.00,93.28 L79.00,93.22 L78.00,93.20 L77.00,93.20 L76.00,93.21 L75.00,93.21 L74.00,93.22 L73.00,93.23 L72.00,93.25 L71.00,93.26 L70.00,93.28 L69.00,93.30 L68.00,93.33 L67.00,93.38 L66.00,93.45 L65.00,93.53 L64.00,93.62 L63.00,93.71 L62.00,93.80 L61.00,93.89 L60.00,94.00 L59.00,94.11 L58.00,94.22 L57.00,94.35 L56.00,94.48 L55.00,94.62 L54.00,94.76 L53.00,94.93" stroke="#800080" pathLength="390.24" stroke-dasharray="6.8 3"/>
</g>
<path d="M118.8,236.3 v-3.8 M118.8,4.6 v3.8 M206.1,236.3 v-3.8 M206.1,4.6 v3.8 M293.3,236.3 v-3.8 M293.3,4.6 v3.8 M380.6,236.3 v-3.8 M380.6,4.6 v3.8 M57.8,236.3 v-2 M57.8,4.6 v2 M73.2,236.3 v-2 M73.2,4.6 v2 M84.1,236.3 v-2 M84.1,4.6 v2 M92.5,236.3 v-2 M92.5,4.6 v2 M99.4,236.3 v-2 M99.4,4.6 v2 M105.3,236.3 v-2 M105.3,4.6 v2 M110.3,236.3 v-2 M110.3,4.6 v2 M114.8,236.3 v-2 M114.8,4.6 v2 M145.1,236.3 v-2 M145.1,4.6 v2 M160.4,236.3 v-2 M160.4,4.6 v2 M171.3,236.3 v-2 M171.3,4.6 v2 M179.8,236.3 v-2 M179.8,4.6 v2 M186.7,236.3 v-2 M186.7,4.6 v2 M192.6,236.3 v-2 M192.6,4.6 v2 M197.6,236.3 v-2 M197.6,4.6 v2 M202.1,236.3 v-2 M202.1,4.6 v2 M232.3,236.3 v-2 M232.3,4.6 v2 M247.7,236.3 v-2 M247.7,4.6 v2 M258.6,236.3 v-2 M258.6,4.6 v2 M267.1,236.3 v-2 M267.1,4.6 v2 M274.0,236.3 v-2 M274.0,4.6 v2 M279.8,236.3 v-2 M279.8,4.6 v2 M284.9,236.3 v-2 M284.9,4.6 v2 M289.3,236.3 v-2 M289.3,4.6 v2 M319.6,236.3 v-2 M319.6,4.6 v2 M335.0,236.3 v-2 M335.0,4.6 v2 M345.9,236.3 v-2 M345.9,4.6 v2 M354.3,236.3 v-2 M354.3,4.6 v2 M361.2,236.3 v-2 M361.2,4.6 v2 M367.1,236.3 v-2 M367.1,4.6 v2 M372.2,236.3 v-2 M372.2,4.6 v2 M376.6,236.3 v-2 M376.6,4.6 v2 M406.9,236.3 v-2 M406.9,4.6 v2 M422.2,236.3 v-2 M422.2,4.6 v2 M54.5,193.2 h3.8 M429.9,193.2 h-3.8 M54.5,156.9 h3.8 M429.9,156.9 h-3.8 M54.5,72.7 h3.8 M429.9,72.7 h-3.8 M54.5,36.4 h3.8 M429.9,36.4 h-3.8 M54.5,219.9 h2 M429.9,219.9 h-2 M54.5,204.9 h2 M429.9,204.9 h-2 M54.5,183.6 h2 M429.9,183.6 h-2 M54.5,175.6 h2 M429.9,175.6 h-2 M54.5,168.6 h2 M429.9,168.6 h-2 M54.5,162.4 h2 M429.9,162.4 h-2 M54.5,120.6 h2 M429.9,120.6 h-2 M54.5,99.4 h2 M429.9,99.4 h-2 M54.5,84.4 h2 M429.9,84.4 h-2 M54.5,63.1 h2 M429.9,63.1 h-2 M54.5,55.1 h2 M429.9,55.1 h-2 M54.5,48.1 h2 M429.9,48.1 h-2 M54.5,41.9 h2 M429.9,41.9 h-2" stroke="#666" stroke-opacity="0.6" stroke-width="0.7" fill="none"/>
<rect x="54.5" y="4.6" width="375.4" height="231.70000000000002" fill="none" stroke="#787878" stroke-width="1.3"/>
<!-- labels -->
<rect x="94.6" y="21.0" width="78.5" height="18.4" fill="#fff"/><text x="94.9" y="35.8" font-size="12" fill="#000">Γ</text><text x="101.3" y="38.2" font-size="10" font-style="italic" fill="#000">S</text><text transform="translate(111.0,38.8) skewX(-8) scale(1,1.6)" font-size="12" fill="#000">/</text><text x="117.4" y="35.8" font-size="12" font-style="italic" fill="#000">M</text><text x="127.8" y="38.2" font-size="10" font-style="italic" fill="#000">S</text><text x="137.5" y="35.8" font-size="12" fill="#000">=</text><text x="146.8" y="35.8" font-size="12" fill="#000">10</text><text x="160.8" y="31.3" font-size="10" fill="#000">−</text><text x="166.6" y="29.7" font-size="10" fill="#000">3</text>
<text x="275.9" y="35.9" font-size="12" fill="#000">Γ</text><text x="282.3" y="38.3" font-size="10" font-style="italic" fill="#000">S</text><text transform="translate(292.0,38.9) skewX(-8) scale(1,1.6)" font-size="12" fill="#000">/</text><text x="298.4" y="35.9" font-size="12" font-style="italic" fill="#000">M</text><text x="308.8" y="38.3" font-size="10" font-style="italic" fill="#000">S</text><text x="318.5" y="35.9" font-size="12" fill="#000">=</text><text x="327.8" y="35.9" font-size="12" fill="#000">10</text><text x="341.8" y="31.3" font-size="10" fill="#000">−</text><text x="347.6" y="29.7" font-size="10" fill="#000">4</text>
<rect x="238.7" y="141.9" width="79.6" height="17.1" fill="#fff"/><text x="239.0" y="156.2" font-size="12" fill="#000">Γ</text><text x="245.4" y="158.6" font-size="10" font-style="italic" fill="#000">S</text><text transform="translate(255.1,159.2) skewX(-8) scale(1,1.6)" font-size="12" fill="#000">/</text><text x="261.5" y="156.2" font-size="12" font-style="italic" fill="#000">M</text><text x="271.9" y="158.6" font-size="10" font-style="italic" fill="#000">S</text><text x="281.6" y="156.2" font-size="12" fill="#000">=</text><text x="290.9" y="156.2" font-size="12" fill="#000">10</text><text x="304.9" y="152.5" font-size="10" fill="#000">−</text><text x="310.7" y="150.9" font-size="10" fill="#000">2</text>
<rect x="146.9" y="130.3" width="13.5" height="9.9" fill="#ececec"/>
<text transform="translate(146.9,137.45) scale(1,1.03)" font-size="12" fill="#000">gg</text>
<rect x="67.7" y="207.2" width="15" height="11.5" fill="#fff"/>
<text x="68.0" y="216.0" font-size="12" font-style="italic" fill="#000">Z</text><text transform="translate(76.8,215.55) scale(1,0.91)" font-size="12" font-style="italic" fill="#000">γ</text>
<rect x="327" y="223.6" width="14.8" height="11.0" fill="#fff"/>
<text transform="translate(327.2,232.1) scale(1,0.93)" font-size="12" font-style="italic" fill="#000">Z</text><text transform="translate(335.4,232.2) scale(1,0.91)" font-size="12" font-style="italic" fill="#000">γ</text>
<rect x="122.8" y="213.8" width="23.3" height="9.3" fill="#fff"/>
<text x="123.0" y="222.8" font-size="12" fill="#000">WW</text>
<rect x="161.5" y="221.9" width="14.6" height="8.8" fill="#fff"/>
<text x="161.5" y="230.7" font-size="12" fill="#000">ZZ</text>
<rect x="249.0" y="186.6" width="14.2" height="9.5" fill="#fff"/>
<text transform="translate(249.8,193.2) scale(1,1.02)" font-size="12" font-style="italic" fill="#000">γ</text><text transform="translate(256.9,193.2) scale(1,1.02)" font-size="12" font-style="italic" fill="#000">γ</text>
<!-- tick labels -->
<g font-size="12" fill="#666">
<text x="118.8" y="251" text-anchor="middle">1</text>
<text x="206.7" y="251" text-anchor="middle">10</text>
<text x="293.3" y="251" text-anchor="middle">100</text>
<text x="380.6" y="251" text-anchor="middle">1000</text>
<text x="51.3" y="195.9" text-anchor="end">500</text>
<text x="51.3" y="159.8" text-anchor="end">1000</text>
<text x="51.3" y="76.5" text-anchor="end">5000</text>
<text x="48.6" y="41.3" text-anchor="end">10<tspan font-size="10" dy="-4.5">4</tspan></text>
<text x="224" y="274">Λ</text><text x="232.7" y="276.3" font-size="10">2</text><text x="239.5" y="274">/</text><text x="243.5" y="274">Λ</text><text x="252.8" y="276.2" font-size="10.5" font-style="italic">Y</text>
<g transform="translate(11,142) rotate(-90)"><text x="-1.8" y="0">Λ</text><text x="5.9" y="2" font-size="10" font-style="italic">H</text><text x="15.2" y="0">/GeV</text></g>
</g>
</svg></body></html>
